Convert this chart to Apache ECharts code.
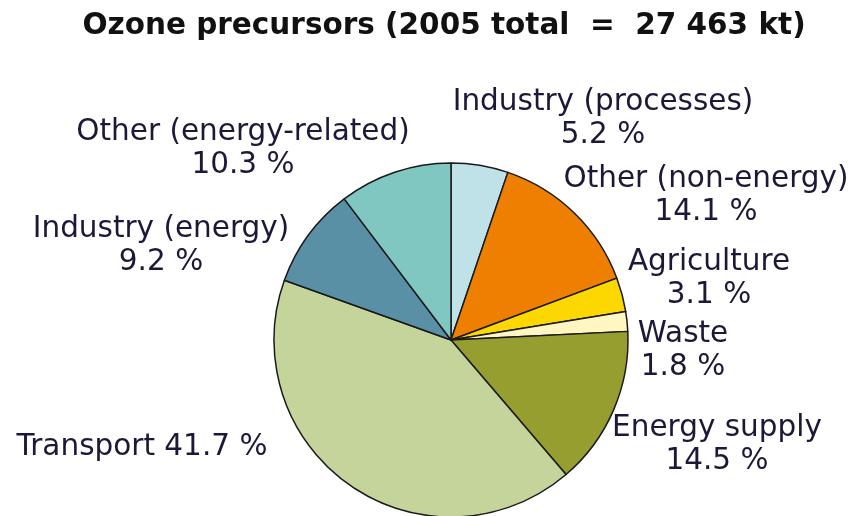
<!DOCTYPE html>
<html>
<head>
<meta charset="utf-8">
<script src="https://cdn.jsdelivr.net/npm/echarts@6/dist/echarts.min.js"></script>
<style>
  html, body { margin: 0; padding: 0; background: #fff; }
  #chart { width: 851px; height: 516px; }
</style>
</head>
<body>
<div id="chart"></div>
<script>
// data
var categories = ['Industry (processes)', 'Other (non-energy)', 'Agriculture', 'Waste',
  'Energy supply', 'Transport', 'Industry (energy)', 'Other (energy-related)']
var shares = [5.2, 14.1, 3.1, 1.8, 14.5, 41.7, 9.2, 10.3]
var titleText = 'Ozone precursors (2005 total  =  27 463 kt)'

// styling
var colors = ['#bfe2e8', '#ee7f00', '#fcd700', '#fff6c2', '#959e2f', '#c4d49b', '#5a90a6', '#80c7c2']
// label centres (px), one per slice
var labelPos = [[603, 119], [706, 196], [709, 279], [683, 351], [717, 445], [142, 447], [161, 246], [243, 149]]

var chart = echarts.init(document.getElementById('chart'))

var pieData = categories.map(function(name, i) {
  return { name: name, value: shares[i], itemStyle: { color: colors[i] } }
})

chart.setOption({
  animation: false,
  title: {
    text: titleText,
    left: 439,
    textAlign: 'center',
    top: 6,
    textStyle: {
      fontFamily: 'DejaVu Sans',
      fontWeight: 'bold',
      fontSize: 29.5,
      color: '#111'
    }
  },
  series: [{
    type: 'pie',
    center: [451, 340],
    radius: 177,
    startAngle: 90,
    clockwise: true,
    data: pieData,
    itemStyle: {
      borderColor: '#1a1a1a',
      borderWidth: 1.5
    },
    label: {
      show: true,
      position: 'outside',
      overflow: 'none',
      fontFamily: 'DejaVu Sans',
      fontSize: 29.5,
      lineHeight: 33,
      color: '#1d1838',
      align: 'center',
      formatter: function(p) {
        if (p.dataIndex === 5) return p.name + ' ' + p.value.toFixed(1) + ' %'
        return p.name + '\n' + p.value.toFixed(1) + ' %'
      }
    },
    labelLine: { show: false },
    labelLayout: function(params) {
      var pos = labelPos[params.dataIndex]
      return { x: pos[0], y: pos[1], align: 'center', verticalAlign: 'middle', hideOverlap: false }
    },
    emphasis: { disabled: true }
  }]
})
</script>
</body>
</html>
